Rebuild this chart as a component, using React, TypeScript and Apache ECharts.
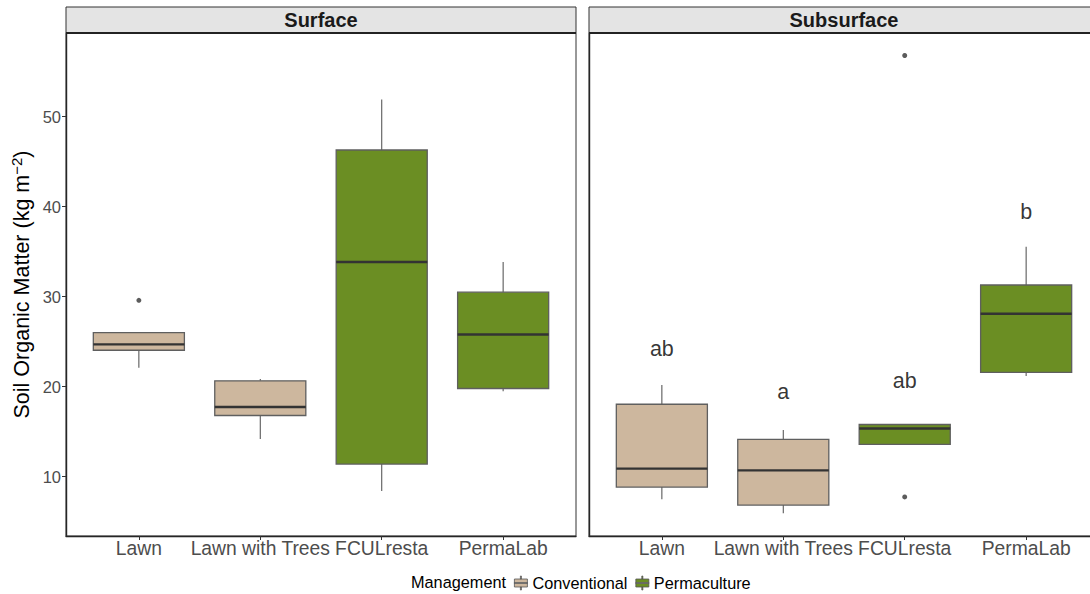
import React, { useEffect, useRef } from "react";
import * as echarts from "echarts";

// ---------- data ----------
const categories = ["Lawn", "Lawn with Trees", "FCULresta", "PermaLab"];
const management = ["Conventional", "Conventional", "Permaculture", "Permaculture"];
const panels = ["Surface", "Subsurface"];

// [lower whisker, Q1, median, Q3, upper whisker]
const surfaceStats = [
  [22.1, 24.05, 24.7, 26.0, 26.0],
  [14.2, 16.8, 17.75, 20.65, 20.85],
  [8.4, 11.4, 33.85, 46.3, 51.9],
  [19.5, 19.8, 25.8, 30.5, 33.85],
];
const subsurfaceStats = [
  [7.5, 8.85, 10.9, 18.05, 20.2],
  [5.95, 6.85, 10.7, 14.15, 15.2],
  [13.6, 13.6, 15.35, 15.8, 15.8],
  [21.2, 21.6, 28.1, 31.3, 35.55],
];
// [category index (1-based), value]
const surfaceOutliers = [[1, 29.6]];
const subsurfaceOutliers = [
  [3, 56.8],
  [3, 7.75],
];
const subsurfaceLetters = ["ab", "a", "ab", "b"];
const subsurfaceLetterY = [24.2, 19.4, 20.6, 39.4];
const yTicks = [10, 20, 30, 40, 50];
const xTicks = [1, 2, 3, 4];

const COLORS: Record<string, string> = {
  Conventional: "#CDB79E",
  Permaculture: "#6B8E23",
};
const FONT = "'Liberation Sans', Arial, Helvetica, sans-serif";

const GRID_TOP = 33;
const GRID_H = 503;
const GRID_W = 510;
const GRID_LEFTS = [66, 589];

function boxData(stats: number[][], group: string) {
  const out: number[][] = [];
  stats.forEach((s, i) => {
    if (management[i] === group) out.push([i + 1, ...s]);
  });
  return out;
}

function renderBox(params: any, api: any) {
  const x = api.value(0);
  const lo = api.value(1);
  const q1 = api.value(2);
  const med = api.value(3);
  const q3 = api.value(4);
  const hi = api.value(5);
  const hw = 0.375;
  const tl = api.coord([x - hw, q3]);
  const br = api.coord([x + hw, q1]);
  const mL = api.coord([x - hw, med]);
  const mR = api.coord([x + hw, med]);
  const pHi = api.coord([x, hi]);
  const pQ3 = api.coord([x, q3]);
  const pQ1 = api.coord([x, q1]);
  const pLo = api.coord([x, lo]);
  const wStyle = { stroke: "#5a5a5a", lineWidth: 1.1 };
  return {
    type: "group",
    children: [
      { type: "line", shape: { x1: pHi[0], y1: pHi[1], x2: pQ3[0], y2: pQ3[1] }, style: wStyle },
      { type: "line", shape: { x1: pQ1[0], y1: pQ1[1], x2: pLo[0], y2: pLo[1] }, style: wStyle },
      {
        type: "rect",
        shape: { x: tl[0], y: tl[1], width: br[0] - tl[0], height: br[1] - tl[1] },
        style: { fill: api.visual("color"), stroke: "#5f5f5f", lineWidth: 1.3 },
      },
      {
        type: "line",
        shape: { x1: mL[0], y1: mL[1], x2: mR[0], y2: mR[1] },
        style: { stroke: "#333333", lineWidth: 2.4 },
      },
    ],
  };
}

export default function App() {
  const ref = useRef<HTMLDivElement>(null);
  useEffect(() => {
    if (!ref.current) return;
    const chart = echarts.init(ref.current, null, { renderer: "svg" });

    const axisLineStyle = { color: "#1a1a1a", width: 1.4 };

    const xAxis = [0, 1].map((g) => ({
      gridIndex: g,
      type: "value",
      min: 0.4,
      max: 4.6,
      splitLine: { show: false },
      axisLine: { show: true, onZero: false, lineStyle: axisLineStyle },
      axisTick: { show: true, customValues: xTicks, length: 4, lineStyle: { color: "#333" } },
      axisLabel: {
        show: true,
        customValues: xTicks,
        hideOverlap: false,
        formatter: (v: number) => categories[Math.round(v) - 1] ?? "",
        fontSize: 19.3,
        color: "#4d4d4d",
        margin: 3,
        fontFamily: FONT,
      },
    }));

    const yAxis = [0, 1].map((g) => ({
      gridIndex: g,
      type: "value",
      min: 3.41,
      max: 59.3,
      splitLine: { show: false },
      axisLine: { show: true, onZero: false, lineStyle: axisLineStyle },
      axisTick: { show: g === 0, customValues: yTicks, length: 4, lineStyle: { color: "#333" } },
      axisLabel: {
        show: g === 0,
        customValues: yTicks,
        fontSize: 16.5,
        color: "#4d4d4d",
        margin: 5,
        fontFamily: FONT,
      },
      name: g === 0 ? "Soil Organic Matter (kg m{sup|\u22122})" : "",
      nameLocation: "middle",
      nameRotate: 90,
      nameGap: 31,
      nameTextStyle: {
        fontSize: 21.5,
        color: "#000",
        fontFamily: FONT,
        lineHeight: 26,
        rich: {
          sup: { fontSize: 15, fontFamily: FONT, color: "#000", verticalAlign: "top", lineHeight: 26 },
        },
      },
    }));

    const series: any[] = [];
    const statsByPanel = [surfaceStats, subsurfaceStats];
    const outliersByPanel = [surfaceOutliers, subsurfaceOutliers];
    [0, 1].forEach((g) => {
      ["Conventional", "Permaculture"].forEach((grp) => {
        series.push({
          type: "custom",
          name: grp,
          xAxisIndex: g,
          yAxisIndex: g,
          itemStyle: { color: COLORS[grp] },
          renderItem: renderBox,
          encode: { x: 0, y: [1, 2, 3, 4, 5] },
          data: boxData(statsByPanel[g], grp),
          silent: true,
        });
      });
      series.push({
        type: "scatter",
        name: "outliers" + g,
        xAxisIndex: g,
        yAxisIndex: g,
        symbol: "circle",
        symbolSize: 5,
        itemStyle: { color: "#333333" },
        data: outliersByPanel[g],
        silent: true,
      });
    });
    series.push({
      type: "scatter",
      name: "letters",
      xAxisIndex: 1,
      yAxisIndex: 1,
      symbolSize: 0,
      silent: true,
      data: subsurfaceLetters.map((l, i) => ({ name: l, value: [i + 1, subsurfaceLetterY[i]] })),
      label: {
        show: true,
        position: "inside",
        formatter: "{b}",
        fontSize: 21.5,
        color: "#000000",
        textBorderWidth: 0,
        fontFamily: FONT,
      },
    });

    const graphic: any[] = [];
    panels.forEach((p, g) => {
      const left = GRID_LEFTS[g];
      graphic.push({
        type: "rect",
        shape: { x: left, y: 7, width: GRID_W, height: GRID_TOP - 7 },
        style: { fill: "#e4e4e4", stroke: "#333333", lineWidth: 1 },
        z: 10,
      });
      graphic.push({
        type: "rect",
        shape: { x: left, y: GRID_TOP, width: GRID_W, height: GRID_H },
        style: { fill: "none", stroke: "#333333", lineWidth: 1 },
        z: 10,
      });
      graphic.push({
        type: "line",
        shape: { x1: left, y1: GRID_TOP, x2: left + GRID_W, y2: GRID_TOP },
        style: { stroke: "#222222", lineWidth: 2 },
        z: 11,
      });
      graphic.push({
        type: "text",
        z: 12,
        style: {
          text: p,
          x: left + GRID_W / 2,
          y: 20,
          fontSize: 20,
          fontWeight: "bold",
          fontFamily: FONT,
          fill: "#1a1a1a",
          align: "center",
          verticalAlign: "middle",
          textAlign: "center",
          textVerticalAlign: "middle",
        },
      });
    });
    graphic.push({
      type: "text",
      style: {
        text: "Management",
        x: 411,
        y: 582,
        fontSize: 16.3,
        fontFamily: FONT,
        fill: "#000",
        align: "left",
        verticalAlign: "middle",
        textAlign: "left",
        textVerticalAlign: "middle",
      },
    });

    chart.setOption({
      animation: false,
      backgroundColor: "#ffffff",
      textStyle: { fontFamily: FONT },
      grid: GRID_LEFTS.map((l) => ({
        left: l,
        top: GRID_TOP,
        width: GRID_W,
        height: GRID_H,
        containLabel: false,
        outerBoundsMode: "none",
      })),
      xAxis,
      yAxis,
      legend: {
        data: ["Conventional", "Permaculture"],
        left: 514,
        top: 575,
        itemWidth: 13,
        itemHeight: 14,
        itemGap: 8,
        padding: 0,
        icon: "path://M6,0 h1 v3 h-1 z M0,3 h13 v8 h-13 z M0,6.5 v1 h13 v-1 z M6,11 h1 v3 h-1 z",
        itemStyle: { borderColor: "#555", borderWidth: 0.8 },
        textStyle: { fontSize: 16.3, color: "#000", fontFamily: FONT },
        selectedMode: false,
      },
      graphic,
      series,
    });
    return () => chart.dispose();
  }, []);
  return (
    <div style={{ position: "fixed", left: 0, top: 0, width: 1090, height: 594, overflow: "hidden", background: "#fff" }}>
      <div ref={ref} style={{ width: 1100, height: 594 }} />
    </div>
  );
}
